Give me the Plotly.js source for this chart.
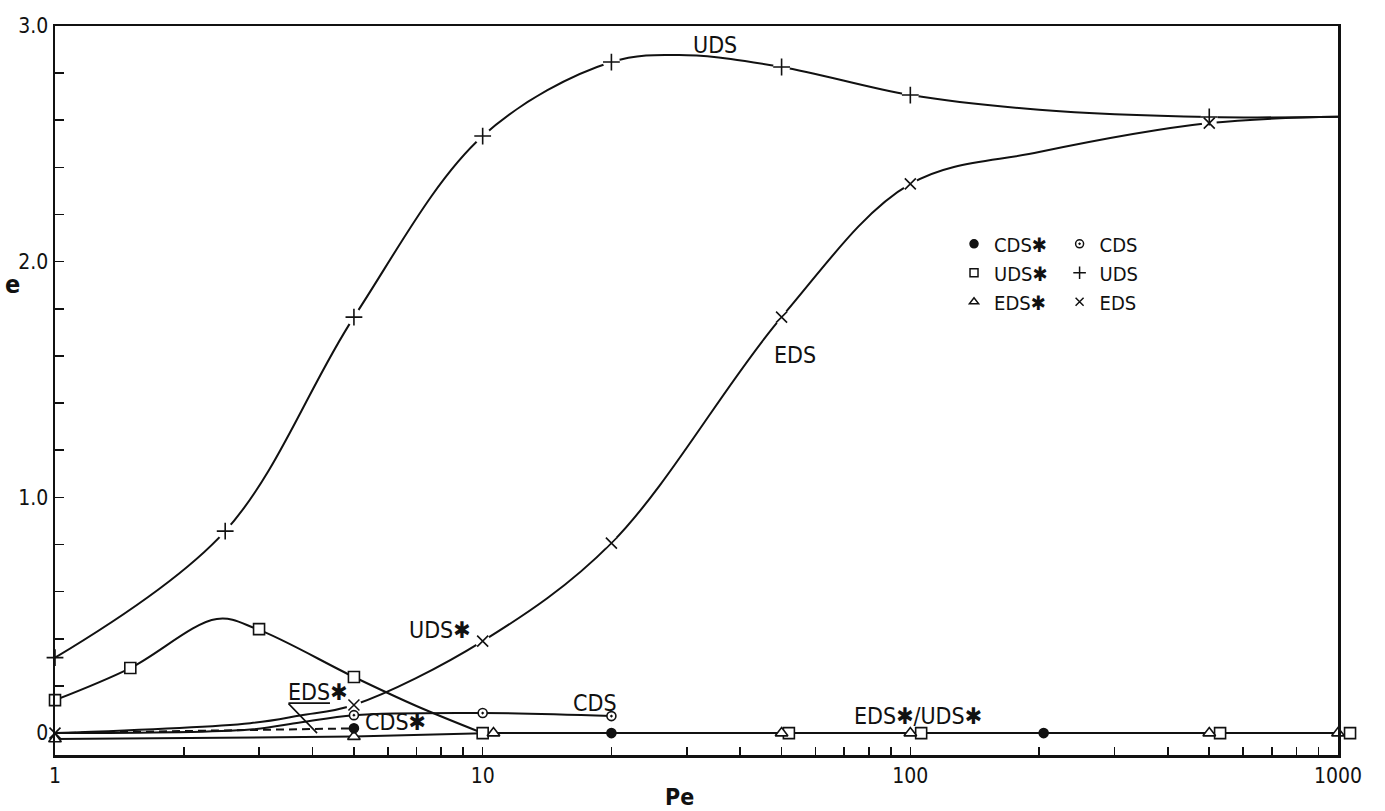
<!DOCTYPE html>
<html>
<head>
<meta charset="utf-8">
<script src="https://cdn.plot.ly/plotly-3.0.1.min.js"></script>
<style>
  html, body { margin: 0; padding: 0; background: #fff; }
  #chart { width: 1385px; height: 811px; }
</style>
</head>
<body>
<div id="chart"></div>
<script>
// ---- values (Pe on log axis, e on linear axis) ----
// UDS (+)
const udsPe      = [1, 2.5, 5, 10, 20, 50, 100, 500];
const udsE       = [0.32, 0.857, 1.765, 2.533, 2.847, 2.826, 2.707, 2.614];
const udsCurvePe = [1, 2.5, 5, 10, 20, 30, 50, 100, 200, 500, 1000];
const udsCurveE  = [0.32, 0.857, 1.765, 2.533, 2.847, 2.876, 2.826, 2.707, 2.645, 2.614, 2.615];

// EDS (x)
const edsPe      = [1, 5, 10, 20, 50, 100, 500];
const edsE       = [0.0, 0.119, 0.39, 0.806, 1.765, 2.33, 2.588];
const edsCurvePe = [1, 2.86, 3.74, 5, 10, 20, 50, 100, 200, 500, 1000];
const edsCurveE  = [0.0, 0.042, 0.075, 0.119, 0.39, 0.806, 1.765, 2.33, 2.465, 2.588, 2.615];

// UDS* (squares)
const udsStarPe      = [1, 1.5, 3, 5, 10, 52, 106, 530];
const udsStarE       = [0.14, 0.276, 0.441, 0.238, 0, 0, 0, 0];
const udsStarEndPe   = [1067];   // square drawn just right of the Pe = 1000 triangle
const udsStarEndE    = [0];
const udsStarCurvePe = [1, 1.5, 2.39, 2.97, 5, 7, 10];
const udsStarCurveE  = [0.14, 0.276, 0.484, 0.441, 0.238, 0.115, 0.0];

// EDS* (triangles)
const edsStarPe = [1, 5, 10.6, 50, 100, 500, 1000];
const edsStarE  = [-0.025, -0.015, 0, 0, 0, 0, 0];

// CDS (open circles with dot)
const cdsPe      = [5, 10, 20];
const cdsE       = [0.076, 0.085, 0.072];
const cdsCurvePe = [1, 2.86, 3.74, 5, 10, 20];
const cdsCurveE  = [0.0, 0.015, 0.045, 0.076, 0.085, 0.072];

// CDS* (filled circles)
const cdsStarPe      = [5, 20, 205];
const cdsStarE       = [0.02, 0, 0];
const cdsStarCurvePe = [1, 5];
const cdsStarCurveE  = [0.0, 0.02];

// axis ticks
const xTickVals = [1, 10, 100, 1000];
const xTickText = ['1', '10', '100', '1000'];
const yTickVals = [0, 1, 2, 3];
const yTickText = ['0', '1.0', '2.0', '3.0'];

// ---- drawing ----
const FONT = 'DejaVu Sans Condensed, DejaVu Sans, sans-serif';
const INK = '#111';
const STAR = '\u2731';

// plot geometry: main axis spans 55..1338 px; a hidden second axis spans 55..1360 px with the same scale
const X_DOMAIN_END = 1283 / 1305;
const X2_RANGE_END = 3 * 1305 / 1283;

function curve(x, y, dash, shape) {
  return { x, y, type: 'scatter', mode: 'lines', showlegend: false, hoverinfo: 'skip',
           line: { color: INK, width: 2, shape: shape || 'spline', smoothing: 1, dash: dash || 'solid' },
           cliponaxis: false };
}
function pts(x, y, symbol, size, fill, xaxis) {
  return { x, y, type: 'scatter', mode: 'markers', showlegend: false, xaxis: xaxis || 'x',
           marker: { symbol, size, color: fill || INK, line: { color: INK, width: 1.6 } },
           cliponaxis: false };
}
function gap(x, y, size) {
  return { x, y, type: 'scatter', mode: 'markers', showlegend: false, hoverinfo: 'skip',
           marker: { symbol: 'circle', size, color: '#fff', line: { width: 0 } }, cliponaxis: false };
}
function legendItem(name, symbol, size, legend) {
  return { x: [null], y: [null], type: 'scatter', mode: 'markers', name, legend,
           marker: { symbol, size, color: INK, line: { color: INK, width: 1.5 } } };
}

// minor log ticks
const minorX = [];
[1, 10, 100].forEach(d => { for (let k = 2; k <= 9; k++) minorX.push(k * d); });

const traces = [
  curve(udsCurvePe, udsCurveE),
  curve(edsCurvePe, edsCurveE),
  curve(udsStarCurvePe, udsStarCurveE),
  curve(cdsCurvePe, cdsCurveE),
  curve(cdsStarCurvePe, cdsStarCurveE, '8px,5px', 'linear'),
  curve(edsStarPe, edsStarE, 'solid', 'linear'),
  gap(udsPe.slice(1), udsE.slice(1), 17),
  gap(edsPe.slice(1), edsE.slice(1), 15),
  pts(udsPe, udsE, 'cross-thin-open', 12),
  pts(edsPe, edsE, 'x-thin-open', 11),
  pts(udsStarPe, udsStarE, 'square', 11, '#fff'),
  pts(udsStarEndPe, udsStarEndE, 'square', 11, '#fff', 'x2'),
  pts(edsStarPe, edsStarE, 'triangle-up', 11, '#fff'),
  pts(cdsPe, cdsE, 'circle-dot', 9, '#fff'),
  pts(cdsStarPe, cdsStarE, 'circle', 9),
  legendItem('CDS' + STAR, 'circle', 8, 'legend'),
  legendItem('UDS' + STAR, 'square-open', 8, 'legend'),
  legendItem('EDS' + STAR, 'triangle-up-open', 8, 'legend'),
  legendItem('CDS', 'circle-open-dot', 8, 'legend2'),
  legendItem('UDS', 'cross-thin-open', 9, 'legend2'),
  legendItem('EDS', 'x-thin-open', 8, 'legend2')
];

const lg = (x) => ({
  x, y: 0.728, xanchor: 'left', yanchor: 'top', bgcolor: 'rgba(0,0,0,0)', borderwidth: 0,
  font: { family: FONT, size: 20, color: INK }, itemwidth: 30, tracegroupgap: 0
});

function lbl(text, pe, e, size) {
  return { text, x: Math.log10(pe), y: e, xref: 'x', yref: 'y', showarrow: false,
           font: { family: FONT, size: size || 23, color: INK } };
}
function leader(pe, e, ax, ay) {
  return { text: '', x: Math.log10(pe), y: e, xref: 'x', yref: 'y', showarrow: true,
           arrowhead: 0, arrowwidth: 1.6, arrowcolor: INK, ax, ay, standoff: 0, startstandoff: 0 };
}

const layout = {
  width: 1385, height: 811,
  margin: { l: 55, r: 25, t: 26, b: 56 },
  paper_bgcolor: '#fff', plot_bgcolor: 'rgba(0,0,0,0)',
  font: { family: FONT, color: INK, size: 21 },
  xaxis: {
    type: 'log', range: [0, 3], domain: [0, X_DOMAIN_END], showgrid: false, zeroline: false,
    showline: true, linecolor: INK, linewidth: 2.5, mirror: true,
    tickmode: 'array', tickvals: xTickVals, ticktext: xTickText,
    ticks: 'inside', ticklen: 8, tickwidth: 1.6, tickcolor: INK,
    tickfont: { family: FONT, size: 21, color: INK },
    minor: { tickmode: 'array', tickvals: minorX, ticks: 'inside', ticklen: 8, tickwidth: 1.6, tickcolor: INK, showgrid: false }
  },
  xaxis2: {
    type: 'log', range: [0, X2_RANGE_END], domain: [0, 1], anchor: 'y',
    visible: false, showgrid: false, zeroline: false, showline: false, ticks: ''
  },
  yaxis: {
    range: [-0.093, 3.0], showgrid: false, zeroline: false, anchor: 'x',
    showline: true, linecolor: INK, linewidth: 2.5, mirror: true,
    tickmode: 'array', tickvals: yTickVals, ticktext: yTickText,
    ticks: 'inside', ticklen: 9, tickwidth: 1.6, tickcolor: INK,
    tickfont: { family: FONT, size: 21, color: INK },
    minor: { dtick: 0.2, tick0: 0, ticks: 'inside', ticklen: 9, tickwidth: 1.6, tickcolor: INK, showgrid: false }
  },
  showlegend: true,
  legend: lg(0.6889),
  legend2: lg(0.7698),
  annotations: [
    { text: '<b>e</b>', xref: 'paper', yref: 'paper', x: -0.0324, y: 0.645, xanchor: 'center', yanchor: 'middle',
      showarrow: false, font: { family: FONT, size: 25, color: INK } },
    { text: '<b>Pe</b>', xref: 'paper', yref: 'paper', x: 0.4788, y: -0.0576, xanchor: 'center', yanchor: 'middle',
      showarrow: false, font: { family: FONT, size: 23, color: INK } },
    lbl('UDS', 34.9, 2.919),
    lbl('EDS', 53.7, 1.604),
    lbl('UDS' + STAR, 7.95, 0.437),
    lbl('EDS' + STAR, 4.12, 0.174),
    lbl('CDS' + STAR, 6.24, 0.047),
    lbl('CDS', 18.3, 0.127),
    lbl('EDS' + STAR + '/UDS' + STAR, 104, 0.072),
    leader(4.395, 0.127, -43, 0),
    leader(4.10, 0.0, -30, -31)
  ]
};

Plotly.newPlot('chart', traces, layout, { displayModeBar: false, staticPlot: true });
</script>
</body>
</html>
